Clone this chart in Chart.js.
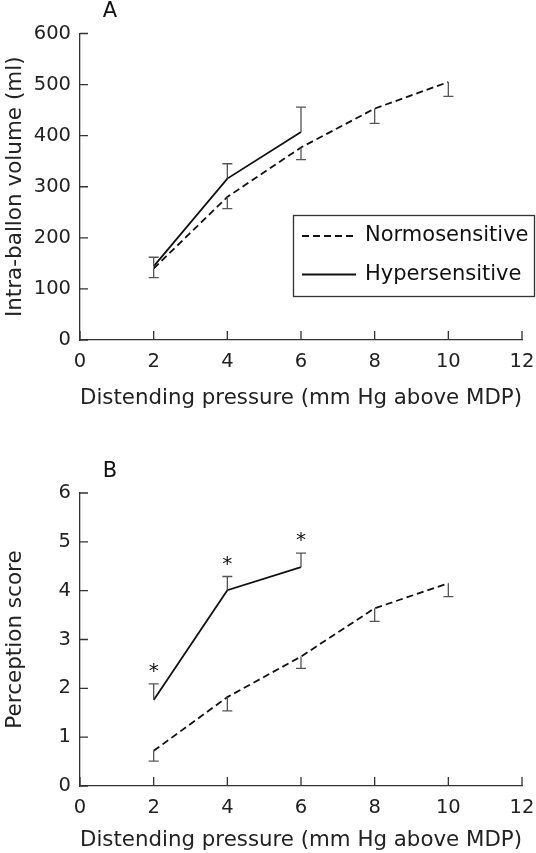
<!DOCTYPE html>
<html>
<head>
<meta charset="utf-8">
<script src="https://cdn.jsdelivr.net/npm/chart.js@4.4.1/dist/chart.umd.min.js"></script>
<style>
  html, body { margin: 0; padding: 0; background: #fff; }
  .panel { position: absolute; left: 0; width: 536px; }
  #panelA { top: 0; height: 430px; }
  #panelB { top: 430px; height: 423px; }
</style>
</head>
<body>
<div class="panel" id="panelA"><canvas id="chartA"></canvas></div>
<div class="panel" id="panelB"><canvas id="chartB"></canvas></div>
<script>
// distending pressure, mm Hg above MDP
const normoPressure = [2, 4, 6, 8, 10];
const hyperPressure = [2, 4, 6];

// panel A: intra-balloon volume (ml), mean and SEM
const normoVolume = [140, 280, 377, 453, 505];
const normoVolumeErr = [18, 23, 24, 29, 28];
const hyperVolume = [144, 316, 407];
const hyperVolumeErr = [18, 29, 49];

// panel B: perception score, mean and SEM
const normoScore = [0.72, 1.82, 2.65, 3.64, 4.15];
const normoScoreErr = [0.21, 0.28, 0.24, 0.27, 0.27];
const hyperScore = [1.76, 4.01, 4.48];
const hyperScoreErr = [0.33, 0.28, 0.29];

const xTicks = [0, 2, 4, 6, 8, 10, 12];
const volumeTicks = [0, 100, 200, 300, 400, 500, 600];
const scoreTicks = [0, 1, 2, 3, 4, 5, 6];

Chart.defaults.font.family = 'DejaVu Sans';
Chart.defaults.color = '#222';

const pts = (xs, ys) => xs.map((x, i) => ({ x: x, y: ys[i] }));

const innerTicks = {
  id: 'innerTicks',
  afterDraw(chart) {
    const { ctx, chartArea: a, scales: { x, y } } = chart;
    ctx.save();
    ctx.strokeStyle = '#333';
    ctx.lineWidth = 1.3;
    ctx.beginPath();
    x.ticks.forEach((t) => {
      const px = x.getPixelForValue(t.value);
      ctx.moveTo(px, a.bottom);
      ctx.lineTo(px, a.bottom - 9);
    });
    y.ticks.forEach((t) => {
      const py = y.getPixelForValue(t.value);
      ctx.moveTo(a.left, py);
      ctx.lineTo(a.left + 8, py);
    });
    ctx.stroke();
    ctx.restore();
  }
};

const errorBars = {
  id: 'errorBars',
  afterDatasetsDraw(chart) {
    const { ctx, scales: { x, y } } = chart;
    ctx.save();
    chart.data.datasets.forEach((ds) => {
      ds.data.forEach((p, i) => {
        const px = x.getPixelForValue(p.x);
        const y0 = y.getPixelForValue(p.y);
        const y1 = y.getPixelForValue(p.y + ds.errDir * ds.errors[i]);
        ctx.strokeStyle = '#555';
        ctx.lineWidth = 1.3;
        ctx.beginPath();
        ctx.moveTo(px, y0);
        ctx.lineTo(px, y1);
        ctx.moveTo(px - 5, y1);
        ctx.lineTo(px + 5, y1);
        ctx.stroke();
        if (ds.stars) {
          ctx.fillStyle = '#111';
          ctx.font = '20px DejaVu Sans';
          ctx.textAlign = 'center';
          ctx.textBaseline = 'middle';
          ctx.fillText('*', px, y1 - 12);
        }
      });
    });
    ctx.restore();
  }
};

const panelLabel = {
  id: 'panelLabel',
  afterDraw(chart, args, opts) {
    const ctx = chart.ctx;
    ctx.save();
    ctx.fillStyle = '#111';
    ctx.font = '21px DejaVu Sans';
    ctx.textAlign = 'center';
    ctx.textBaseline = 'middle';
    ctx.fillText(opts.text, opts.x, opts.y);
    ctx.restore();
  }
};

const boxLegend = {
  id: 'boxLegend',
  afterDraw(chart, args, opts) {
    if (!opts.show) return;
    const ctx = chart.ctx;
    ctx.save();
    ctx.strokeStyle = '#333';
    ctx.lineWidth = 1.3;
    ctx.strokeRect(293.5, 215.5, 241, 81);
    ctx.font = '21px DejaVu Sans';
    ctx.textBaseline = 'middle';
    ctx.textAlign = 'left';
    ctx.fillStyle = '#111';
    const rowY = [236, 274.5];
    chart.data.datasets.forEach((ds, i) => {
      ctx.strokeStyle = ds.borderColor;
      ctx.lineWidth = ds.borderWidth;
      ctx.setLineDash(ds.borderDash || []);
      ctx.beginPath();
      ctx.moveTo(302, rowY[i]);
      ctx.lineTo(356, rowY[i]);
      ctx.stroke();
      ctx.setLineDash([]);
      ctx.fillText(ds.label, 365, rowY[i]);
    });
    ctx.restore();
  }
};

function makeChart(id, cfg) {
  return new Chart(id, {
    type: 'line',
    data: {
      datasets: [{
        label: 'Normosensitive',
        data: pts(normoPressure, cfg.normo),
        errors: cfg.normoErr,
        errDir: -1,
        borderColor: '#111',
        borderWidth: 1.8,
        borderDash: [7, 4],
        pointRadius: 0,
        fill: false,
        tension: 0,
      }, {
        label: 'Hypersensitive',
        data: pts(hyperPressure, cfg.hyper),
        errors: cfg.hyperErr,
        errDir: 1,
        stars: cfg.stars,
        borderColor: '#111',
        borderWidth: 1.8,
        pointRadius: 0,
        fill: false,
        tension: 0,
      }],
    },
    options: {
      responsive: true,
      maintainAspectRatio: false,
      animation: false,
      events: [],
      layout: { padding: { top: cfg.padTop, right: 14, bottom: 0, left: 0 } },
      plugins: {
        legend: { display: false },
        tooltip: { enabled: false },
        panelLabel: { text: cfg.letter, x: 110, y: cfg.letterY },
        boxLegend: { show: cfg.legend },
      },
      scales: {
        x: {
          type: 'linear',
          min: 0,
          max: 12,
          afterBuildTicks: (s) => { s.ticks = xTicks.map((v) => ({ value: v })); },
          afterFit: (s) => { s.height = cfg.xHeight; s.paddingLeft = 0; s.paddingRight = 0; },
          grid: { display: false, drawTicks: false },
          border: { display: true, color: '#333', width: 1.3 },
          ticks: { font: { size: 19.5 }, padding: 10, color: '#222' },
          title: {
            display: true,
            text: 'Distending pressure (mm Hg above MDP)',
            font: { size: 21.5 },
            color: '#222',
            padding: { top: 0, bottom: cfg.xTitlePad },
          },
        },
        y: {
          type: 'linear',
          min: 0,
          max: cfg.yTicks[cfg.yTicks.length - 1],
          afterBuildTicks: (s) => { s.ticks = cfg.yTicks.map((v) => ({ value: v })); },
          afterFit: (s) => { s.width = 80; s.paddingTop = 0; s.paddingBottom = 0; },
          grid: { display: false, drawTicks: false },
          border: { display: true, color: '#333', width: 1.3 },
          ticks: { font: { size: 19.5 }, padding: 9, color: '#222' },
          title: {
            display: true,
            text: cfg.yTitle,
            font: { size: 21.5 },
            color: '#222',
            padding: { top: 3, bottom: 0 },
          },
        },
      },
    },
    plugins: [innerTicks, errorBars, panelLabel, boxLegend],
  });
}

makeChart('chartA', {
  normo: normoVolume, normoErr: normoVolumeErr,
  hyper: hyperVolume, hyperErr: hyperVolumeErr,
  stars: false, legend: true,
  yTicks: volumeTicks, yTitle: 'Intra-ballon volume (ml)',
  letter: 'A', letterY: 12,
  padTop: 33.5, xHeight: 90, xTitlePad: 19,
});

makeChart('chartB', {
  normo: normoScore, normoErr: normoScoreErr,
  hyper: hyperScore, hyperErr: hyperScoreErr,
  stars: true, legend: false,
  yTicks: scoreTicks, yTitle: 'Perception score',
  letter: 'B', letterY: 42,
  padTop: 63, xHeight: 67, xTitlePad: 0,
});
</script>
</body>
</html>
